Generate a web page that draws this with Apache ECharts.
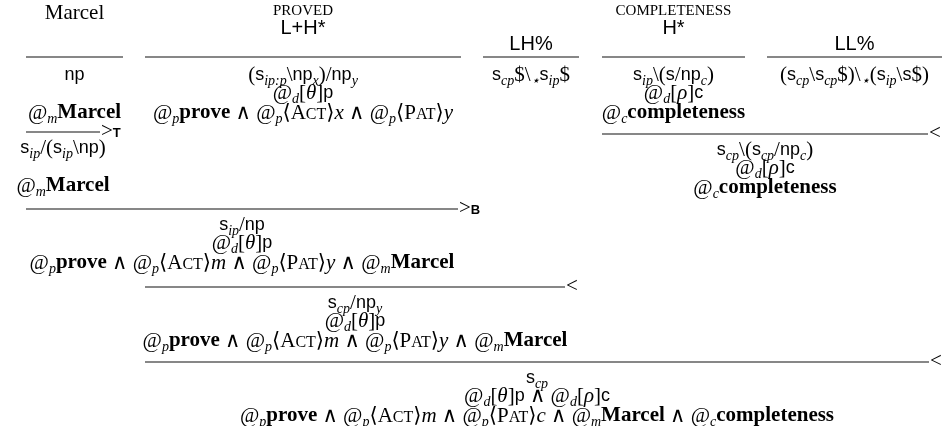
<!DOCTYPE html>
<html><head><meta charset="utf-8">
<script src="https://cdn.jsdelivr.net/npm/echarts@6/dist/echarts.min.js"></script>
<style>html,body{margin:0;padding:0;background:#fff}#c{width:945px;height:426px}</style>
</head><body><div id="c"></div>
<script>
// ---------------- data (derivation content) ----------------
// mini markup: S{..}=sans category, B{..}=bold predicate, I{..}=italic variable,
// K{..}=small caps relation, _x or _{..}=subscript, everything else = roman math
const words = ['Marcel', 'PROVED', '', 'COMPLETENESS', ''];
const tunes = ['', 'L+H*', 'LH%', 'H*', 'LL%'];
const lexCat = [
  'S{np}',
  '(S{s}_{ip:p}\\S{np}_{x})/S{np}_{y}',
  'S{s}_{cp}$\\_{⋆}S{s}_{ip}$',
  'S{s}_{ip}\\(S{s}/S{np}_{c})',
  '(S{s}_{cp}\\S{s}_{cp}$)\\_{⋆}(S{s}_{ip}\\S{s}$)'
];
const lexIdx = ['', '@_{d}[I{θ}]S{p}', '', '@_{d}[I{ρ}]S{c}', ''];
const lexSem = [
  '@_{m}B{Marcel}',
  '@_{p}B{prove} ∧ @_{p}⟨K{Act}⟩I{x} ∧ @_{p}⟨K{Pat}⟩I{y}',
  '',
  '@_{c}B{completeness}',
  ''
];
const stepFrom = [0, 3, 0, 1, 1];
const stepTo = [0, 4, 1, 2, 4];
const stepOp = ['>T', '<', '>B', '<', '<'];
const stepCat = [
  'S{s}_{ip}/(S{s}_{ip}\\S{np})',
  'S{s}_{cp}\\(S{s}_{cp}/S{np}_{c})',
  'S{s}_{ip}/S{np}',
  'S{s}_{cp}/S{np}_{y}',
  'S{s}_{cp}'
];
const stepIdx = ['', '@_{d}[I{ρ}]S{c}', '@_{d}[I{θ}]S{p}', '@_{d}[I{θ}]S{p}', '@_{d}[I{θ}]S{p} ∧ @_{d}[I{ρ}]S{c}'];
const stepSem = [
  '@_{m}B{Marcel}',
  '@_{c}B{completeness}',
  '@_{p}B{prove} ∧ @_{p}⟨K{Act}⟩I{m} ∧ @_{p}⟨K{Pat}⟩I{y} ∧ @_{m}B{Marcel}',
  '@_{p}B{prove} ∧ @_{p}⟨K{Act}⟩I{m} ∧ @_{p}⟨K{Pat}⟩I{y} ∧ @_{m}B{Marcel}',
  '@_{p}B{prove} ∧ @_{p}⟨K{Act}⟩I{m} ∧ @_{p}⟨K{Pat}⟩I{c} ∧ @_{m}B{Marcel} ∧ @_{c}B{completeness}'
];

// ---------------- layout (page geometry) ----------------
const colLeft = [26, 145, 483, 602, 767];
const colRight = [123, 461, 579, 745, 942];
const stepY = [132, 134, 209, 287, 362];
const stepRight = [100, 928, 458, 565, 929];
const WORD_Y = 13, CAP_Y = 11, TUNE_Y = 28, TUNE_Y_ALONE = 44, LEX_RULE_Y = 57;
const CAT_Y = 75, IDX_Y = 93, SEM_Y = 113;
const S_CAT = 16, S_IDX = 34, S_SEM = 54;

const SERIF = '"Liberation Serif","DejaVu Serif",serif';
const SANS = '"Liberation Sans","DejaVu Sans",sans-serif';
const LH = 22;
const RICH = {
  rm: {fontFamily: SERIF, fontSize: 21, lineHeight: LH, fill: '#000'},
  it: {fontFamily: SERIF, fontSize: 21, fontStyle: 'italic', lineHeight: LH, fill: '#000'},
  bf: {fontFamily: SERIF, fontSize: 21, fontWeight: 'bold', lineHeight: LH, fill: '#000'},
  sc: {fontFamily: SERIF, fontSize: 16, lineHeight: LH, height: 18.6, verticalAlign: 'bottom', fill: '#000'},
  sf: {fontFamily: SANS, fontSize: 18, lineHeight: LH, fill: '#000'},
  sub: {fontFamily: SERIF, fontSize: 14, fontStyle: 'italic', lineHeight: LH, height: 10, verticalAlign: 'bottom', fill: '#000'},
  hd: {fontFamily: SERIF, fontSize: 21, lineHeight: LH, fill: '#000'},
  cap: {fontFamily: SERIF, fontSize: 15, lineHeight: LH, fill: '#000'},
  tn: {fontFamily: SANS, fontSize: 20, lineHeight: LH, fill: '#000'},
  op: {fontFamily: SANS, fontSize: 13, fontWeight: 'bold', lineHeight: LH, height: 17, verticalAlign: 'bottom', fill: '#000'}
};

function toRich(src) {
  let out = '', buf = '', i = 0;
  const flush = () => { if (buf) { out += '{rm|' + buf + '}'; buf = ''; } };
  while (i < src.length) {
    const ch = src[i];
    if ('SBIK'.includes(ch) && src[i + 1] === '{') {
      const j = src.indexOf('}', i + 2);
      const inner = src.slice(i + 2, j);
      flush();
      if (ch === 'S') out += '{sf|' + inner + '}';
      else if (ch === 'B') out += '{bf|' + inner + '}';
      else if (ch === 'I') out += '{it|' + inner + '}';
      else out += '{rm|' + inner[0].toUpperCase() + '}{sc|' + inner.slice(1).toUpperCase() + '}';
      i = j + 1;
    } else if (ch === '_') {
      let inner;
      if (src[i + 1] === '{') { const j = src.indexOf('}', i + 2); inner = src.slice(i + 2, j); i = j + 1; }
      else { inner = src[i + 1]; i += 2; }
      flush();
      out += '{sub|' + inner + '}';
    } else { buf += ch; i++; }
  }
  flush();
  return out;
}

// build marks
const ruleData = [];
const textData = [];
const textItems = [];
function addText(x, y, markup, align) {
  if (!markup) return;
  textData.push([x, y]);
  textItems.push({markup: markup, align: align || 'center'});
}
words.forEach((w, i) => {
  const cx = (colLeft[i] + colRight[i]) / 2;
  ruleData.push([colLeft[i], colRight[i], LEX_RULE_Y]);
  if (w) {
    const caps = w === w.toUpperCase();
    addText(cx, caps ? CAP_Y : WORD_Y, caps ? '{cap|' + w + '}' : '{hd|' + w + '}');
  }
  if (tunes[i]) addText(cx, w ? TUNE_Y : TUNE_Y_ALONE, '{tn|' + tunes[i] + '}');
  addText(cx, CAT_Y, toRich(lexCat[i]));
  addText(cx, IDX_Y, toRich(lexIdx[i]));
  addText(cx, SEM_Y, toRich(lexSem[i]));
});
stepOp.forEach((op, k) => {
  const x1 = colLeft[stepFrom[k]], x2 = stepRight[k], y = stepY[k];
  const cx = (x1 + x2) / 2;
  ruleData.push([x1, x2, y]);
  addText(x2 + 1, y - 1, '{rm|' + op[0] + '}' + (op.length > 1 ? '{op|' + op.slice(1) + '}' : ''), 'left');
  addText(cx, y + S_CAT, toRich(stepCat[k]));
  addText(cx, y + S_IDX, toRich(stepIdx[k]));
  addText(cx, y + S_SEM, toRich(stepSem[k]));
});

const chart = echarts.init(document.getElementById('c'));
chart.setOption({
  animation: false,
  grid: {left: 0, right: 0, top: 0, bottom: 0},
  xAxis: {type: 'value', min: 0, max: 945, show: false},
  yAxis: {type: 'value', min: 0, max: 426, inverse: true, show: false},
  series: [
    {
      type: 'custom', coordinateSystem: 'cartesian2d', data: ruleData,
      encode: {x: [0, 1], y: 2},
      renderItem: function (params, api) {
        const a = api.coord([api.value(0), api.value(2)]);
        const b = api.coord([api.value(1), api.value(2)]);
        return {type: 'line', silent: true,
          shape: {x1: a[0], y1: a[1], x2: b[0], y2: b[1]},
          style: {stroke: '#111', lineWidth: 1.1}};
      }
    },
    {
      type: 'custom', coordinateSystem: 'cartesian2d', data: textData,
      encode: {x: 0, y: 1},
      renderItem: function (params, api) {
        const p = api.coord([api.value(0), api.value(1)]);
        const t = textItems[params.dataIndex];
        return {type: 'text', silent: true, x: p[0], y: p[1],
          style: {text: t.markup, rich: RICH, align: t.align, verticalAlign: 'middle',
            fill: '#000', fontFamily: SERIF, fontSize: 21, lineHeight: LH}};
      }
    }
  ]
});
</script>
</body></html>
